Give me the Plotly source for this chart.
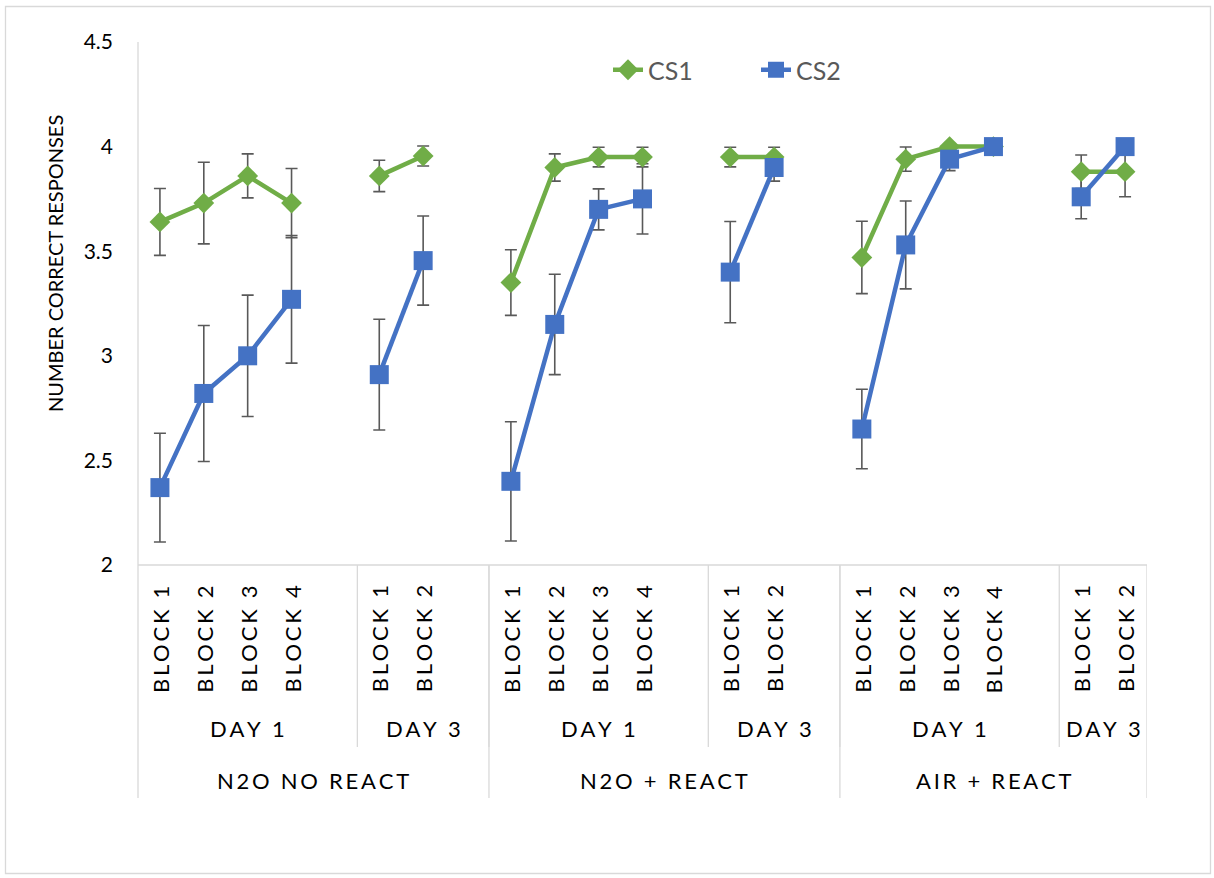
import plotly.graph_objects as go

# ---- data -------------------------------------------------------------
# one entry per category slot; "" marks the empty spacer slot after each day
block_labels = ["BLOCK 1", "BLOCK 2", "BLOCK 3", "BLOCK 4", "", "BLOCK 1", "BLOCK 2", "",
                "BLOCK 1", "BLOCK 2", "BLOCK 3", "BLOCK 4", "", "BLOCK 1", "BLOCK 2", "",
                "BLOCK 1", "BLOCK 2", "BLOCK 3", "BLOCK 4", "", "BLOCK 1", "BLOCK 2"]
day_labels = (["DAY 1"] * 5 + ["DAY 3"] * 3 +
              ["DAY 1"] * 5 + ["DAY 3"] * 3 +
              ["DAY 1"] * 5 + ["DAY 3"] * 2)
group_labels = (["N2O NO REACT"] * 8 + ["N2O + REACT"] * 8 + ["AIR + REACT"] * 7)

cs1 = [3.64, 3.73, 3.86, 3.73, None, 3.86, 3.955, None,
       3.35, 3.90, 3.95, 3.95, None, 3.95, 3.95, None,
       3.47, 3.94, 4.00, 4.00, None, 3.88, 3.88]
cs1_err = [0.16, 0.195, 0.105, 0.165, None, 0.075, 0.048, None,
           0.157, 0.065, 0.047, 0.047, None, 0.047, 0.047, None,
           0.173, 0.058, 0.0, 0.0, None, 0.08, 0.12]

cs2 = [2.37, 2.82, 3.00, 3.27, None, 2.91, 3.455, None,
       2.40, 3.15, 3.70, 3.75, None, 3.40, 3.90, None,
       2.65, 3.53, 3.94, 4.00, None, 3.76, 4.00]
cs2_err = [0.26, 0.325, 0.29, 0.305, None, 0.265, 0.213, None,
           0.285, 0.24, 0.098, 0.168, None, 0.242, 0.065, None,
           0.19, 0.21, 0.055, 0.0, None, 0.105, 0.0]

y_ticks = [2, 2.5, 3, 3.5, 4, 4.5]
y_ticktext = ["2", "2.5", "3", "3.5", "4", "4.5"]

# ---- layout geometry (pixels) -----------------------------------------
W, H = 1214, 878
PL, PR, PT, PB = 138, 1147, 42, 565
N = len(block_labels)
xs = [i + 0.5 for i in range(N)]

GREEN = "#70AD47"
BLUE = "#4472C4"
AXIS = "#D9D9D9"
FONT = "Lato"


def pyp(py):
    """pixel row -> paper y"""
    return (PB - py) / (PB - PT)


def pxp(px):
    """pixel column -> paper x"""
    return (px - PL) / (PR - PL)


def spaced(s):
    # widen the tracking of the category labels
    return "\u2009".join(s.replace(" ", " "))


def spans(labels):
    out = []
    start = 0
    for i in range(1, len(labels) + 1):
        if i == len(labels) or labels[i] != labels[start]:
            out.append((labels[start], start, i))
            start = i
    return out


fig = go.Figure()

# error bars first so the markers sit on top of them
for vals, errs in ((cs1, cs1_err), (cs2, cs2_err)):
    fig.add_trace(go.Scatter(
        x=xs, y=vals, mode="markers", showlegend=False, hoverinfo="skip",
        marker=dict(size=1, color="rgba(0,0,0,0)"),
        error_y=dict(type="data", array=errs, visible=True,
                     color="#595959", thickness=1.6, width=6),
    ))

fig.add_trace(go.Scatter(
    x=xs, y=cs1, name="CS1", mode="lines+markers",
    line=dict(color=GREEN, width=4.5),
    marker=dict(symbol="diamond", size=16, color=GREEN),
))
fig.add_trace(go.Scatter(
    x=xs, y=cs2, name="CS2", mode="lines+markers",
    line=dict(color=BLUE, width=4.5),
    marker=dict(symbol="square", size=19, color=BLUE),
))

shapes = []
annotations = []

# outer chart border
shapes.append(dict(type="rect", xref="paper", yref="paper",
                   x0=pxp(5.5), x1=pxp(1210.5), y0=pyp(873.5), y1=pyp(6.5),
                   line=dict(color=AXIS, width=1.3), fillcolor="rgba(0,0,0,0)",
                   layer="below"))
# value axis line and category axis line
shapes.append(dict(type="line", xref="paper", yref="paper",
                   x0=0, x1=0, y0=pyp(798), y1=1,
                   line=dict(color=AXIS, width=1.3)))
shapes.append(dict(type="line", xref="paper", yref="paper",
                   x0=0, x1=1, y0=0, y1=0,
                   line=dict(color=AXIS, width=1.3)))

label_font = dict(family=FONT, size=22, color="#000000")

# block labels
for i, lab in enumerate(block_labels):
    if lab:
        annotations.append(dict(
            x=xs[i], y=pyp(639), xref="x", yref="paper", text=spaced(lab),
            textangle=-90, showarrow=False, xanchor="center", yanchor="middle",
            font=label_font))

# day labels with separators
for lab, a, b in spans(list(zip(group_labels, day_labels))):
    annotations.append(dict(
        x=(a + b) / 2, y=pyp(729), xref="x", yref="paper", text=spaced(lab[1]),
        showarrow=False, xanchor="center", yanchor="middle", font=label_font))
    if b < N:
        shapes.append(dict(type="line", xref="x", yref="paper",
                           x0=b, x1=b, y0=0, y1=pyp(747),
                           line=dict(color=AXIS, width=1.3)))

# group labels with separators
for lab, a, b in spans(group_labels):
    annotations.append(dict(
        x=(a + b) / 2, y=pyp(781), xref="x", yref="paper", text=spaced(lab),
        showarrow=False, xanchor="center", yanchor="middle", font=label_font))
    shapes.append(dict(type="line", xref="x", yref="paper",
                       x0=b, x1=b, y0=0, y1=pyp(798),
                       line=dict(color=AXIS, width=1.3)))

# value axis title
annotations.append(dict(
    x=pxp(55), y=pyp(264), xref="paper", yref="paper",
    text="NUMBER CORRECT RESPONSES", textangle=-90, showarrow=False,
    xanchor="center", yanchor="middle",
    font=dict(family=FONT, size=20, color="#000000")))

fig.update_layout(
    width=W, height=H,
    margin=dict(l=PL, r=W - PR, t=PT, b=H - PB),
    paper_bgcolor="white", plot_bgcolor="white",
    font=dict(family=FONT, color="#000000"),
    xaxis=dict(range=[0, N], showgrid=False, zeroline=False, showline=False,
               showticklabels=False, ticks=""),
    yaxis=dict(range=[2, 4.5], tickvals=y_ticks, ticktext=y_ticktext,
               showgrid=False, zeroline=False, showline=False, ticks="",
               ticklabelstandoff=24,
               tickfont=dict(family=FONT, size=21, color="#000000")),
    legend=dict(orientation="h", x=pxp(756), y=pyp(70),
                xanchor="center", yanchor="middle",
                font=dict(family=FONT, size=25, color="#595959"),
                bgcolor="rgba(0,0,0,0)", itemwidth=30, entrywidth=103),
    shapes=shapes,
    annotations=annotations,
)

fig.write_html("out.html")
